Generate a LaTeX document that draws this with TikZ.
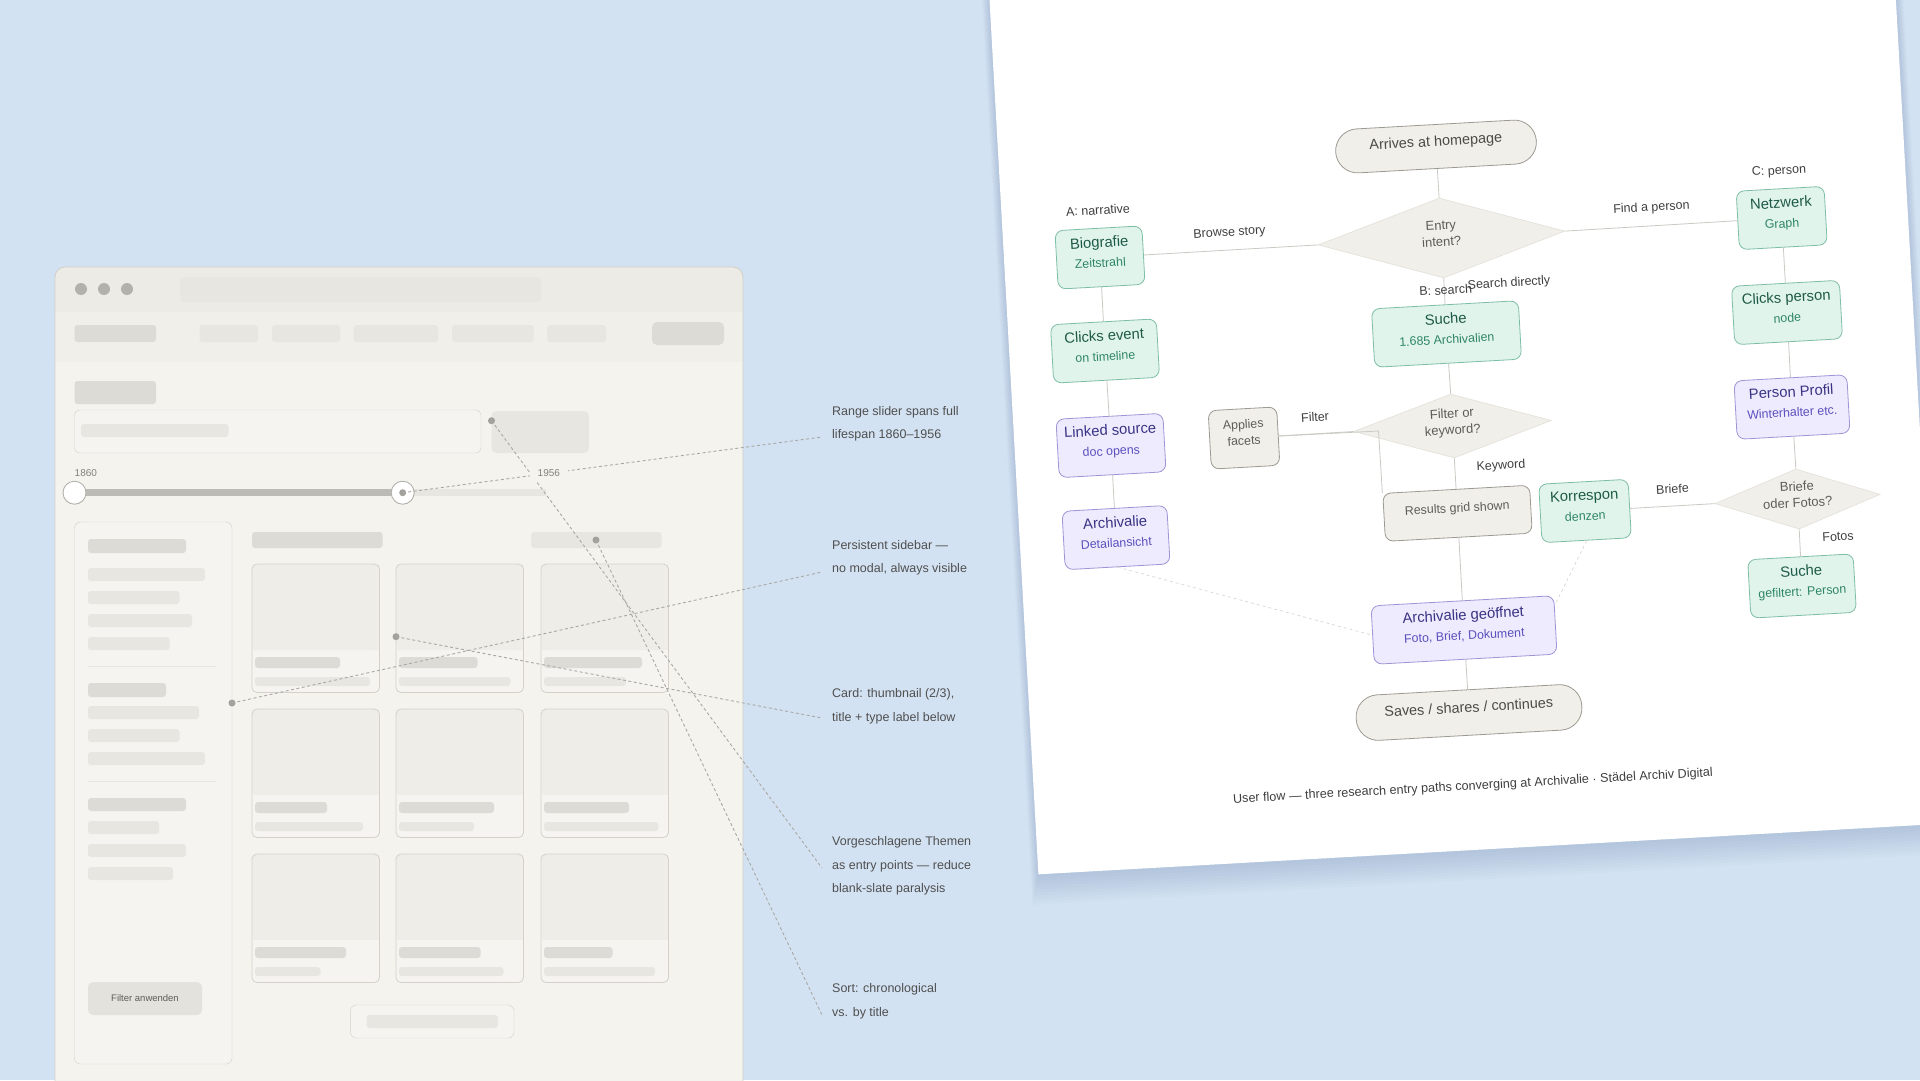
\documentclass[tikz,border=0pt]{standalone}
\usepackage{fontspec}
\setmainfont{Liberation Sans}
\usetikzlibrary{shapes.geometric}

\definecolor{deskblue}{HTML}{D3E2F2}
\definecolor{shadeblue}{HTML}{6F8BB0}
\definecolor{winbody}{HTML}{F4F3EE}
\definecolor{wintop}{HTML}{ECEBE5}
\definecolor{winnav}{HTML}{F0EFEA}
\definecolor{winedge}{HTML}{D2D0C8}
\definecolor{skeldark}{HTML}{DCDBD5}
\definecolor{skellight}{HTML}{E7E6E0}
\definecolor{cardface}{HTML}{F5F4F0}
\definecolor{cardthumb}{HTML}{EEEDE7}
\definecolor{cardline}{HTML}{D3D1C9}
\definecolor{knobline}{HTML}{B3B1AB}
\definecolor{trackdark}{HTML}{BDBBB5}
\definecolor{notegray}{HTML}{4F4F4F}
\definecolor{pingray}{HTML}{A3A19B}
\definecolor{dashgray}{HTML}{A9A8A4}
\definecolor{mintfill}{HTML}{E0F4EC}
\definecolor{mintline}{HTML}{7FBEA6}
\definecolor{mintink}{HTML}{1E5A47}
\definecolor{mintsub}{HTML}{2F8567}
\definecolor{lilacfill}{HTML}{EDEBFD}
\definecolor{lilacline}{HTML}{9D96D6}
\definecolor{lilacink}{HTML}{3A3384}
\definecolor{lilacsub}{HTML}{5B50BE}
\definecolor{stonefill}{HTML}{F1EFE9}
\definecolor{stoneline}{HTML}{9D9A92}
\definecolor{stoneink}{HTML}{4B4A46}
\definecolor{stonesoft}{HTML}{5E5D58}
\definecolor{choiceline}{HTML}{E2E0D8}
\definecolor{linkgray}{HTML}{CBC9C3}
\definecolor{labelink}{HTML}{3F3F3F}

\newcommand{\flowsub}[2]{{\fontsize{12.4}{15}\selectfont\color{#1}#2}}

\begin{document}
\begin{tikzpicture}[
    x=1pt, y=-1pt,
    font=\fontsize{12.5}{23.5}\selectfont,
    skel/.style={fill=skeldark, rounded corners=3pt},
    skelpale/.style={fill=skellight, rounded corners=3pt},
    cardbox/.style={draw=cardline, line width=.8pt, rounded corners=5pt},
    pindot/.style={circle, fill=pingray, inner sep=0pt, minimum size=7pt},
    sliderknob/.style={circle, draw=knobline, fill=white, line width=.9pt,
                       inner sep=0pt, minimum size=23pt},
    notetext/.style={anchor=west, align=left, inner sep=0pt, text=notegray},
    noteline/.style={draw=dashgray, line width=.9pt, dash pattern=on 3pt off 2.5pt},
    flowbase/.style={rotate=3.2, rounded corners=8pt, minimum height=58.5pt,
                     align=center, inner sep=2pt, line width=.8pt, text depth=11pt,
                     font=\fontsize{14.8}{19}\selectfont},
    mint/.style={flowbase, draw=mintline, fill=mintfill, text=mintink},
    lilac/.style={flowbase, draw=lilacline, fill=lilacfill, text=lilacink},
    stone/.style={flowbase, draw=stoneline, fill=stonefill, text=stoneink},
    stonesmall/.style={stone, text=stonesoft, font=\fontsize{12.4}{16.5}\selectfont},
    pill/.style={stone, rounded corners=22pt, minimum height=44pt,
                 font=\fontsize{14.4}{17}\selectfont},
    choice/.style={diamond, rotate=3.2, fill=stonefill, draw=choiceline,
                   line width=.6pt, inner sep=0pt, align=center, text=stonesoft,
                   text depth=9pt, font=\fontsize{13}{16.5}\selectfont},
    flowlbl/.style={rotate=3.2, inner sep=0pt, text=labelink,
                    font=\fontsize{12.5}{15}\selectfont},
    link/.style={draw=linkgray, line width=.8pt},
    softlink/.style={draw=linkgray!75, line width=.7pt, dash pattern=on 3pt off 3pt}
  ]
  \useasboundingbox (0,0) rectangle (1920,1080);
  \fill[deskblue] (0,0) rectangle (1920,1080);

  % Browser wireframe of the archive search page.
  \begin{scope}
    \clip[rounded corners=10pt] (55,267) rectangle (743,1120);
    \fill[winbody] (55,267) rectangle (743,1120);
    \fill[wintop] (55,267) rectangle (743,312);
    \fill[winnav] (55,312) rectangle (743,362);
  \end{scope}
  \draw[winedge, line width=.9pt, rounded corners=10pt] (55,267) rectangle (743,1120);
  \foreach \dx in {81,104,127}
    \fill[knobline] (\dx,289) circle (6);
  \fill[skellight, rounded corners=4pt] (180,277) rectangle (541,302);

  % Navigation row.
  \fill[skel] (74.5,325) rectangle (156,342);
  \foreach \xa/\xb in {199.5/258, 272/340, 353.5/438, 452/533.5, 547/606}
    \fill[skelpale] (\xa,325) rectangle (\xb,342);
  \fill[skel, rounded corners=5pt] (652,322) rectangle (724,345);

  % Heading, search field and slider.
  \fill[skel] (74.5,381) rectangle (156,404);
  \draw[cardline, fill=cardface, rounded corners=5pt] (74.5,410) rectangle (481,453);
  \fill[skelpale] (81,424) rectangle (228.5,437);
  \fill[skelpale, rounded corners=5pt] (491.5,411) rectangle (589,453);
  \draw[skellight, line width=7pt] (402.7,492.7) -- (545.5,492.7);
  \draw[trackdark, line width=7pt] (74.5,492.7) -- (402.7,492.7);
  \node[sliderknob] (knoblow) at (74.5,492.7) {};
  \node[sliderknob] (knobhigh) at (402.7,492.7) {};
  \node[anchor=west, inner sep=0pt, text=pingray!80!black,
        font=\fontsize{10}{12}\selectfont] (yearlow) at (74.5,472.7) {1860};

  % Sidebar with filter groups.
  \draw[cardline, fill=cardface, rounded corners=6pt] (74.5,522) rectangle (232,1064);
  \fill[skel] (88,539) rectangle (186,553);
  \fill[skel] (88,683) rectangle (166,697);
  \fill[skel] (88,798) rectangle (186,811);
  \foreach \yy/\xe in {568/205, 591/179.5, 614/192, 637/169.6, 706/199, 729/179.5,
                       752/205, 821/159, 844/186, 867/173}
    \fill[skelpale] (88,\yy) rectangle (\xe,\yy+13);
  \draw[skellight, line width=.9pt] (88,666) -- (216,666);
  \draw[skellight, line width=.9pt] (88,781) -- (216,781);
  \node[fill=skeldark!80, rounded corners=5pt, minimum width=114pt, minimum height=33pt,
        text=stonesoft, font=\fontsize{9.5}{11}\selectfont] (applybtn) at (145,998.5)
    {Filter anwenden};

  % Result grid.
  \fill[skel] (252,532) rectangle (382.6,548);
  \fill[skelpale] (531,532) rectangle (661.6,548);
  \foreach \cx/\cy/\tw/\sw in {252/564/85/115, 396/564/78.5/111.5, 541/564/98/82,
                               252/709/72/108, 396/709/95/75, 541/709/85/114.5,
                               252/854/91/65.5, 396/854/81.5/104.5, 541/854/68.5/111}
  {
    \fill[cardface, rounded corners=5pt] (\cx,\cy) rectangle ++(127.5,128.5);
    \fill[cardthumb, rounded corners=5pt] (\cx,\cy) rectangle ++(127.5,86);
    \fill[cardthumb] (\cx+.5,\cy+76) rectangle (\cx+127,\cy+86);
    \fill[skel] (\cx+3,\cy+93) rectangle ++(\tw,11);
    \fill[skelpale] (\cx+3,\cy+113) rectangle ++(\sw,9);
    \draw[cardbox] (\cx,\cy) rectangle ++(127.5,128.5);
  }
  \draw[cardline, fill=cardface, rounded corners=6pt] (350.4,1005) rectangle (514,1038);
  \fill[skelpale] (366.5,1015) rectangle (498,1028);

  % Annotation pins and leader lines.
  \node[pindot] (pinslider) at (402.7,492.7) {};
  \node[pindot] (pinside) at (232,703) {};
  \node[pindot] (pincard) at (396,636.7) {};
  \node[pindot] (pinsearch) at (491.5,420.7) {};
  \node[pindot] (pinsort) at (596,540) {};
  \coordinate (endslider) at (822,437);
  \coordinate (endside) at (822,572);
  \coordinate (endcard) at (822,718);
  \coordinate (endsearch) at (822,868);
  \coordinate (endsort) at (822,1015);
  \draw[noteline] (pinslider.center) -- (endslider);
  \draw[noteline] (pinside.center) -- (endside);
  \draw[noteline] (pincard.center) -- (endcard);
  \draw[noteline] (pinsearch.center) -- (endsearch);
  \draw[noteline] (pinsort.center) -- (endsort);
  \node[anchor=west, fill=winbody, inner xsep=8pt, inner ysep=6pt, text=pingray!80!black,
        font=\fontsize{10}{12}\selectfont] (yearhigh) at (529.5,472.7) {1956};

  \node[notetext] (noteslider) at (832,424) {Range slider spans full\\lifespan 1860–1956};
  \node[notetext] (noteside) at (832,558) {Persistent sidebar —\\no modal, always visible};
  \node[notetext] (notecard) at (832,706.5) {Card: thumbnail (2/3),\\title + type label below};
  \node[notetext] (notesearch) at (832,866)
    {Vorgeschlagene Themen\\as entry points — reduce\\blank-slate paralysis};
  \node[notetext] (notesort) at (832,1001.5) {Sort: chronological\\vs. by title};

  % Tilted sheet with the user flow.
  \begin{scope}[shift={(1038.4,874.3)}, rotate=3.2]
    \foreach \k in {3,6,...,30}
      \fill[shadeblue, opacity=.03] (-\k/4,\k) rectangle (905+\k/4,-1000);
    \fill[white] (0,0) rectangle (905,-1000);
  \end{scope}

  \node[pill, minimum width=201pt] (arrive) at (1436,146.5) {Arrives at homepage};
  \node[choice, minimum width=247pt, minimum height=80pt, shape aspect=3] (entry)
    at (1441.5,238) {Entry\\intent?};

  % Path A: narrative.
  \node[mint, minimum width=87pt] (bio) at (1100,257.5)
    {Biografie\\[1pt]\flowsub{mintsub}{Zeitstrahl}};
  \node[mint, minimum width=106pt] (clickev) at (1105,351)
    {Clicks event\\[1pt]\flowsub{mintsub}{on timeline}};
  \node[lilac, minimum width=107pt] (linked) at (1111,445.5)
    {Linked source\\[1pt]\flowsub{lilacsub}{doc opens}};
  \node[lilac, minimum width=105pt] (archdet) at (1116,537.6)
    {Archivalie\\[1pt]\flowsub{lilacsub}{Detailansicht}};

  % Path B: search.
  \node[mint, minimum width=147pt] (suche) at (1446.5,334)
    {Suche\\[1pt]\flowsub{mintsub}{1.685 Archivalien}};
  \node[choice, minimum width=198pt, minimum height=64pt, shape aspect=3.1] (filterq)
    at (1452.5,426) {Filter or\\keyword?};
  \node[stonesmall, minimum width=68.6pt] (facets) at (1244,438) {Applies\\facets};
  \node[stonesmall, minimum width=147pt, minimum height=48pt] (results) at (1457.5,513.3)
    {Results grid shown};
  \node[lilac, minimum width=183pt] (opened) at (1464,630)
    {Archivalie geöffnet\\[1pt]\flowsub{lilacsub}{Foto, Brief, Dokument}};
  \node[pill, minimum width=226pt, minimum height=45.5pt] (saves) at (1469,712.5)
    {Saves / shares / continues};

  % Path C: person.
  \node[mint, minimum width=88pt] (netz) at (1781.7,218)
    {Netzwerk\\[1pt]\flowsub{mintsub}{Graph}};
  \node[mint, minimum width=108pt] (clickp) at (1787,312.5)
    {Clicks person\\[1pt]\flowsub{mintsub}{node}};
  \node[lilac, minimum width=113pt] (profil) at (1792,407)
    {Person Profil\\[1pt]\flowsub{lilacsub}{Winterhalter etc.}};
  \node[choice, minimum width=165pt, minimum height=60pt, shape aspect=2.75] (briefq)
    at (1797.5,499) {Briefe\\oder Fotos?};
  \node[mint, minimum width=89.5pt] (korr) at (1585,511)
    {Korrespon\\[1pt]\flowsub{mintsub}{denzen}};
  \node[mint, minimum width=105.6pt] (suchep) at (1802,586)
    {Suche\\[1pt]\flowsub{mintsub}{gefiltert: Person}};

  % Connectors.
  \coordinate (facetbend) at (1378.5,431);
  \draw[link] (arrive) -- (entry);
  \draw[link] (entry.west) -- (bio);
  \draw[link] (entry.east) -- (netz);
  \draw[link] (entry.south) -- (suche);
  \draw[link] (bio) -- (clickev);
  \draw[link] (clickev) -- (linked);
  \draw[link] (linked) -- (archdet);
  \draw[link] (suche) -- (filterq.north);
  \draw[link] (filterq.west) -- (facets);
  \draw[link] (facets.east) -- (facetbend) -- (results.north west);
  \draw[link] (filterq.south) -- (results);
  \draw[link] (results) -- (opened);
  \draw[link] (opened) -- (saves);
  \draw[link] (netz) -- (clickp);
  \draw[link] (clickp) -- (profil);
  \draw[link] (profil) -- (briefq.north);
  \draw[link] (briefq.west) -- (korr);
  \draw[link] (briefq.south) -- (suchep);
  \draw[softlink] (archdet.south) -- (opened.west);
  \draw[softlink] (korr.south) -- (opened.12);

  % Edge labels and caption.
  \node[flowlbl] (lblnarr) at (1098,210) {A: narrative};
  \node[flowlbl] (lblbrowse) at (1229.5,233) {Browse story};
  \node[flowlbl] (lblfind) at (1651.5,208) {Find a person};
  \node[flowlbl] (lblperson) at (1779,171.4) {C: person};
  \node[flowlbl] (lblsearch) at (1445.6,290) {B: search};
  \node[flowlbl] (lbldirect) at (1509,283.5) {Search directly};
  \node[flowlbl] (lblfilter) at (1315,417) {Filter};
  \node[flowlbl] (lblkey) at (1501,466) {Keyword};
  \node[flowlbl] (lblbriefe) at (1672.5,489) {Briefe};
  \node[flowlbl] (lblfotos) at (1838,536.5) {Fotos};
  \node[flowlbl, font=\fontsize{12.6}{15}\selectfont] (caption) at (1473,786.5)
    {User flow — three research entry paths converging at Archivalie · Städel Archiv Digital};
\end{tikzpicture}
\end{document}
